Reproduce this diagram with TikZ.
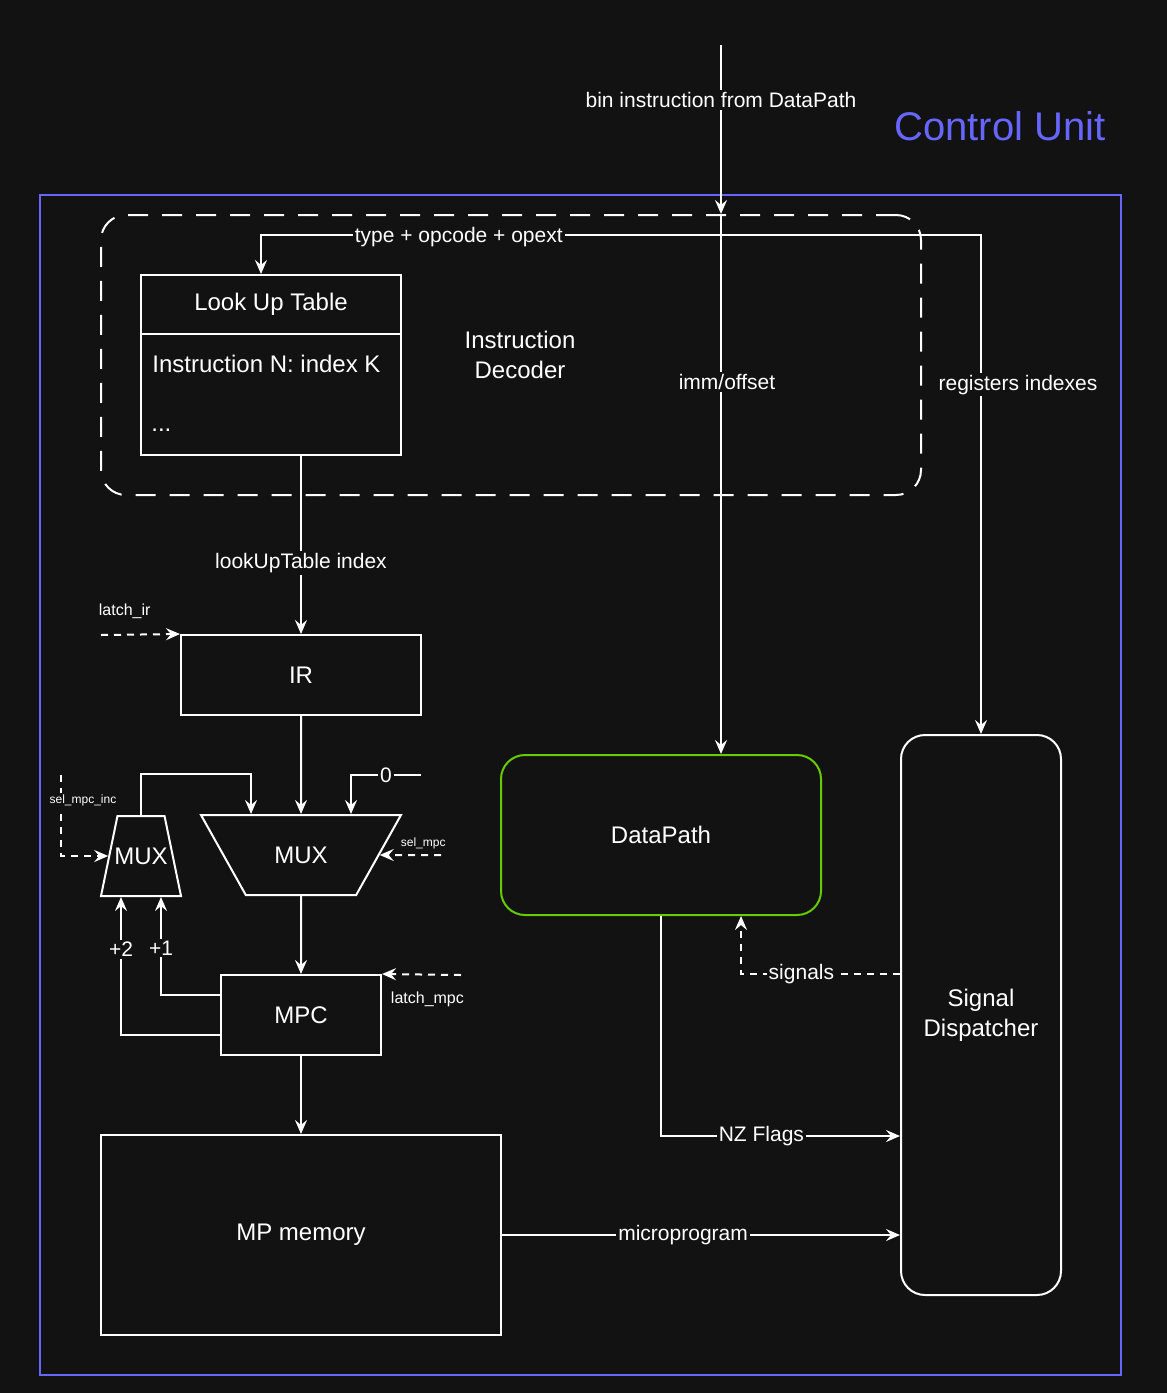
\documentclass[tikz,border=0pt]{standalone}
\usepackage{fontspec}
\setmainfont{Liberation Sans}
\usetikzlibrary{arrows.meta,shapes.geometric,calc,positioning}
\definecolor{bgdark}{HTML}{121212}
\definecolor{cublue}{HTML}{6666FF}
\definecolor{dpgreen}{HTML}{66CC00}
\newcommand{\nodefont}{\fontsize{12}{15}\selectfont}
\newcommand{\edgefont}{\fontsize{10.5}{12}\selectfont}
\newcommand{\sigfont}{\fontsize{8}{9}\selectfont}
\newcommand{\selfont}{\fontsize{6}{7}\selectfont}

\begin{document}
\begin{tikzpicture}[x=0.5pt,y=-0.5pt]
\tikzstyle{box}=[rectangle, draw=white, line width=1pt, text=white, font=\nodefont, inner sep=0pt, align=center]
\tikzstyle{rbox}=[box, rounded corners=12pt]
\tikzstyle{mux}=[trapezium, draw=white, line width=1pt, text=white, font=\nodefont, inner xsep=0pt, inner ysep=15.7pt, trapezium stretches body=true]
\tikzstyle{connect}=[-{Stealth[length=7pt,width=6pt,inset=2.5pt]}, line width=1pt, draw=white]
\tikzstyle{wire}=[line width=1pt, draw=white]
\tikzstyle{ctrl}=[connect, dash pattern=on 3.5pt off 3pt]
\tikzstyle{lbl}=[fill=bgdark, text=white, font=\edgefont, inner sep=1pt]
\tikzstyle{txt}=[text=white, font=\nodefont, inner sep=0pt]

  \path[use as bounding box, fill=bgdark] (0,0) rectangle (1167,1393);

  % frame and decoder
  \node[font=\fontsize{20}{24}\selectfont, text=cublue] (cutitle) at (1000,126) {Control Unit};
  \node[draw=cublue, line width=1pt, minimum width=540.5pt, minimum height=590pt] (cu) at (580.5,785) {};
  \node[draw=white, line width=1pt, dash pattern=on 10pt off 7pt, rounded corners=12.5pt,
        minimum width=410pt, minimum height=140pt] (dec) at (511,355) {};
  \node[txt, align=center] (dectext) at (520,355) {Instruction\\Decoder};

  % look up table
  \node[box, minimum width=130pt, minimum height=90pt] (lut) at (271,365) {};
  \draw[wire] ($(lut.north west)+(0,60)$) -- ($(lut.north east)+(0,60)$);
  \node[txt] (luthead) at (271,304) {Look Up Table};
  \node[txt, anchor=west] (lutrow) at (152,364) {Instruction N: index K};
  \node[txt, anchor=west] (lutdots) at (151,430) {...};

  % micro sequencer
  \node[box, minimum width=120pt, minimum height=40pt] (ir) at (301,675) {IR};
  \node[mux, shape border rotate=180, trapezium angle=60.6, minimum width=100pt, minimum height=40pt] (bmux) at (301,855) {MUX};
  \node[mux, inner xsep=-1.9pt, trapezium angle=78.3, minimum width=40pt, minimum height=40pt] (smux) at (141,856) {MUX};
  \node[box, minimum width=80pt, minimum height=40pt] (mpc) at (301,1015) {MPC};
  \node[box, minimum width=200pt, minimum height=100pt] (mpm) at (301,1235) {MP memory};

  % datapath and dispatcher
  \node[rbox, draw=dpgreen, minimum width=160pt, minimum height=80pt] (dp) at (661,835) {DataPath};
  \node[rbox, minimum width=80pt, minimum height=280pt] (sd) at (981,1015) {Signal\\Dispatcher};

  \coordinate (binsrc) at (721,45);
  \coordinate (split) at (721,235);
  \coordinate (zerosrc) at (421,775);
  \coordinate (incsel) at (61,775);
  \coordinate (mpcsel) at (441,855);
  \coordinate (irlatch) at (101,635);
  \coordinate (mpclatch) at (461,975);

  % instruction fields
  \draw[connect] (binsrc) -- (dec.north -| binsrc) node[lbl, pos=0.325] {bin instruction from DataPath};
  \draw[connect] (dec.north -| binsrc) -- (dp.north -| binsrc) node[lbl, pos=0.311, xshift=3pt] {imm/offset};
  \draw[connect] (split) -| ($(lut.north)+(-10,0)$) node[lbl, pos=0.285, yshift=-1pt] {type + opcode + opext};
  \draw[connect] (split) -| (sd.north) node[lbl, pos=0.65, xshift=18.5pt] {registers indexes};
  \draw[connect] ($(lut.south)+(30,0)$) -- (ir.north) node[lbl, pos=0.6] {lookUpTable index};
  \draw[ctrl] (irlatch) -- (ir.north west) node[text=white, font=\sigfont, pos=0.3, yshift=11.5pt] {latch\_ir};

  % mux inputs
  \draw[connect] (ir.south) -- (bmux.north);
  \draw[connect] (zerosrc) -| ($(bmux.north)+(50,0)$) node[lbl, pos=0.25] {0};
  \draw[connect] (smux.north) -- ($(smux.north)+(0,-41)$) -| ($(bmux.north)+(-50,0)$);
  \draw[ctrl] (incsel) |- (smux.west) node[lbl, font=\selfont, pos=0.155, xshift=11pt] {sel\_mpc\_inc};
  \draw[ctrl] (mpcsel) -- (bmux.east) node[text=white, font=\selfont, pos=0.29, yshift=6pt] {sel\_mpc};
  \draw[connect] (bmux.south) -- (mpc.north);
  \draw[ctrl] (mpclatch) -- (mpc.north east) node[text=white, font=\sigfont, pos=0.425, yshift=-12.5pt] {latch\_mpc};
  \draw[connect] ($(mpc.west)+(0,-20)$) -| ($(smux.south)+(20,0)$) node[lbl, pos=0.74] {+1};
  \draw[connect] ($(mpc.west)+(0,20)$) -| ($(smux.south)+(-20,0)$) node[lbl, pos=0.81] {+2};

  % outputs
  \draw[connect] (mpc.south) -- (mpm.north);
  \draw[connect] (mpm.east) -- (mpm.east -| sd.west) node[lbl, pos=0.455] {microprogram};
  \draw[connect] (dp.south) |- ($(sd.south west)+(0,-160)$) node[lbl, pos=0.71] {NZ Flags};
  \draw[ctrl] ($(sd.north west)+(0,240)$) -| ($(dp.south)+(80,0)$) node[lbl, pos=0.31] {signals};

\end{tikzpicture}
\end{document}
